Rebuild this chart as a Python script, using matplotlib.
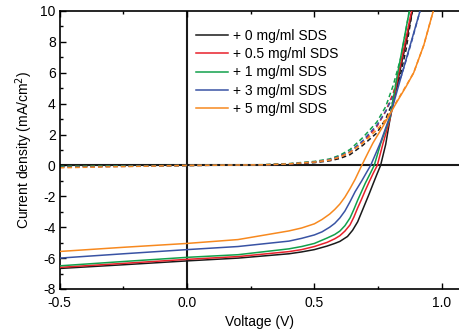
import matplotlib.pyplot as plt

plt.rcParams['font.family'] = ['Liberation Sans', 'DejaVu Sans']
plt.rcParams['axes.unicode_minus'] = False

labels = ['+ 0 mg/ml SDS', '+ 0.5 mg/ml SDS', '+ 1 mg/ml SDS', '+ 3 mg/ml SDS', '+ 5 mg/ml SDS']
colors = ['#1a1a1a', '#e8212b', '#12a04b', '#3953a4', '#f7891f']

# light J-V (solid)
v_black = [-0.5, -0.25, 0.0, 0.2, 0.4, 0.45, 0.5, 0.55, 0.58, 0.6, 0.63, 0.65, 0.67, 0.685, 0.7, 0.715, 0.73, 0.745,
           0.76, 0.78, 0.797, 0.833, 0.885, 0.9]
j_black = [-6.67, -6.43, -6.18, -6.0, -5.72, -5.6, -5.45, -5.22, -5.05, -4.92, -4.6, -4.2, -3.65, -3.05, -2.45, -1.85,
           -1.22, -0.6, 0.0, 1.35, 3.0, 5.87, 10.0, 11.2]
v_red = [-0.5, -0.25, 0.0, 0.2, 0.4, 0.45, 0.5, 0.55, 0.58, 0.6, 0.62, 0.64, 0.655, 0.67, 0.685, 0.7, 0.717, 0.732,
         0.747, 0.77, 0.797, 0.83, 0.882, 0.9]
j_red = [-6.6, -6.34, -6.08, -5.9, -5.58, -5.45, -5.25, -4.98, -4.75, -4.55, -4.25, -3.85, -3.35, -2.75, -2.2, -1.62,
         -1.0, -0.48, 0.0, 1.45, 3.0, 5.87, 10.0, 11.4]
v_green = [-0.5, -0.25, 0.0, 0.2, 0.4, 0.45, 0.5, 0.55, 0.58, 0.6, 0.62, 0.64, 0.655, 0.67, 0.685, 0.7, 0.72, 0.735,
           0.76, 0.797, 0.826, 0.873, 0.89]
j_green = [-6.5, -6.22, -5.95, -5.78, -5.4, -5.25, -5.05, -4.7, -4.47, -4.25, -3.9, -3.4, -2.85, -2.25, -1.7, -1.15,
           -0.5, 0.0, 1.4, 3.1, 5.87, 10.0, 11.4]
v_blue = [-0.5, -0.25, 0.0, 0.2, 0.4, 0.45, 0.5, 0.53, 0.56, 0.58, 0.6, 0.62, 0.64, 0.66, 0.686, 0.705, 0.721, 0.76,
          0.797, 0.843, 0.915, 0.93]
j_blue = [-6.0, -5.72, -5.45, -5.25, -4.9, -4.72, -4.5, -4.3, -4.0, -3.75, -3.4, -2.95, -2.35, -1.7, -1.0, -0.45, 0.0,
          1.5, 3.2, 5.87, 10.0, 10.9]
v_orange = [-0.5, -0.25, 0.0, 0.2, 0.4, 0.45, 0.5, 0.53, 0.56, 0.58, 0.6, 0.62, 0.64, 0.66, 0.686, 0.71, 0.73, 0.77,
            0.82, 0.86, 0.89, 0.93, 0.967, 0.99]
j_orange = [-5.57, -5.3, -5.05, -4.8, -4.24, -4.05, -3.78, -3.5, -3.15, -2.85, -2.5, -2.05, -1.5, -0.9, 0.0, 0.8, 1.45,
            2.55, 4.0, 5.1, 6.0, 7.8, 10.0, 11.2]

# dark J-V (dashed)
dv_black = [-0.5, 0.0, 0.3, 0.4, 0.5, 0.56, 0.6, 0.64, 0.69, 0.745, 0.78, 0.81, 0.84, 0.86, 0.885, 0.9]
dj_black = [-0.05, 0.0, 0.03, 0.08, 0.18, 0.3, 0.45, 0.7, 1.3, 2.1, 3.0, 4.2, 6.0, 7.5, 10.0, 11.2]
dv_red = [-0.5, 0.0, 0.3, 0.4, 0.5, 0.56, 0.6, 0.64, 0.69, 0.745, 0.78, 0.81, 0.84, 0.86, 0.882, 0.9]
dj_red = [-0.08, 0.0, 0.04, 0.1, 0.22, 0.35, 0.55, 0.85, 1.5, 2.5, 3.5, 4.7, 6.5, 7.9, 10.0, 11.4]
dv_green = [-0.5, 0.0, 0.3, 0.4, 0.5, 0.56, 0.6, 0.64, 0.69, 0.745, 0.78, 0.81, 0.84, 0.873, 0.89]
dj_green = [-0.06, 0.0, 0.05, 0.12, 0.26, 0.42, 0.66, 1.03, 1.8, 2.8, 3.8, 5.2, 7.0, 10.0, 11.4]
dv_blue = [-0.5, 0.0, 0.3, 0.4, 0.5, 0.56, 0.6, 0.64, 0.69, 0.745, 0.78, 0.81, 0.843, 0.88, 0.915, 0.93]
dj_blue = [-0.12, 0.0, 0.04, 0.1, 0.23, 0.38, 0.6, 0.9, 1.6, 2.6, 3.5, 4.5, 5.87, 7.9, 10.0, 10.9]
dv_orange = [-0.5, 0.0, 0.3, 0.4, 0.5, 0.56, 0.6, 0.64, 0.69, 0.745, 0.78, 0.82, 0.86, 0.89, 0.93, 0.967, 0.99]
dj_orange = [-0.15, 0.0, 0.04, 0.1, 0.22, 0.35, 0.55, 0.85, 1.45, 2.3, 2.95, 4.05, 5.15, 6.0, 7.8, 10.0, 11.2]

light = [(v_black, j_black), (v_red, j_red), (v_green, j_green), (v_blue, j_blue), (v_orange, j_orange)]
dark = [(dv_black, dj_black), (dv_red, dj_red), (dv_green, dj_green), (dv_blue, dj_blue), (dv_orange, dj_orange)]

fig = plt.figure(figsize=(4.6, 3.29), dpi=100)
ax = fig.add_axes([0.130, 0.1216, 0.87, 0.845])

ax.axhline(0, color='#1a1a1a', lw=1.5, zorder=1)
ax.axvline(0, color='#1a1a1a', lw=1.5, zorder=1)

for (v, j), c, lab in zip(light, colors, labels):
    ax.plot(v, j, color=c, lw=1.1, label=lab, zorder=3)
for (v, j), c in zip(dark, colors):
    ax.plot(v, j, color=c, lw=1.1, ls=(0, (3, 2)), zorder=2)

ax.set_xlim(-0.5, 1.072)
ax.set_ylim(-8, 10)
ax.set_xticks([-0.5, 0.0, 0.5, 1.0])
ax.set_xticklabels(['-0.5', '0.0', '0.5', '1.0'])
ax.set_xticks([-0.25, 0.25, 0.75], minor=True)
ax.set_yticks(range(-8, 11, 2))
ax.set_yticks(range(-7, 10, 2), minor=True)
ax.tick_params(which='both', direction='in', labelsize=10, top=True, right=False, width=1.0)
ax.tick_params(which='major', length=4)
ax.tick_params(axis='x', which='major', pad=5)
ax.tick_params(axis='y', which='major', pad=3)
ax.tick_params(which='minor', length=2.5)
ax.spines['right'].set_visible(False)
for s in ['left', 'bottom', 'top']:
    ax.spines[s].set_linewidth(1.2)

ax.set_xlabel('Voltage (V)', fontsize=10, labelpad=4)
ax.set_ylabel('Current density (mA/cm$^2$)', fontsize=10, labelpad=4)

ax.legend(loc='upper left', bbox_to_anchor=(0.34, 0.935), frameon=False, fontsize=10,
          handlelength=2.3, handletextpad=0.4, labelspacing=0.3, borderaxespad=0,
          borderpad=0)

fig.savefig('out.png', dpi=100)
